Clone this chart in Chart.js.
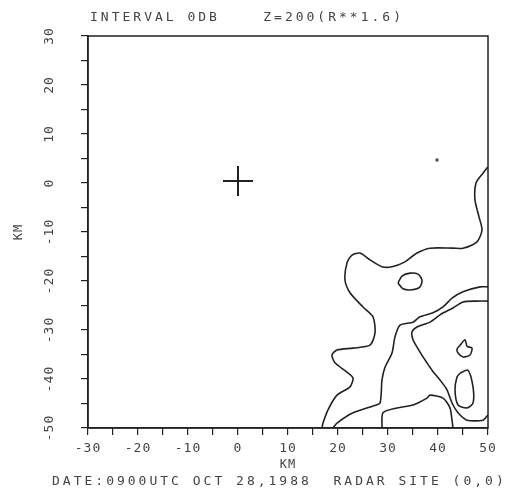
<!DOCTYPE html>
<html>
<head>
<meta charset="utf-8">
<script src="https://cdn.jsdelivr.net/npm/chart.js@4/dist/chart.umd.min.js"></script>
<style>
  html, body { margin: 0; padding: 0; background: #ffffff; }
  #wrap { width: 528px; height: 495px; }
</style>
</head>
<body>
<div id="wrap"><canvas id="c" width="528" height="495"></canvas></div>
<script>
// ---- text ----
const titleText = "INTERVAL 0DB    Z=200(R**1.6)";
const footerText = "DATE:0900UTC OCT 28,1988  RADAR SITE (0,0)";
const xAxisTitle = "KM";
const yAxisTitle = "KM";

// ---- axes ----
const xRange = [-30, 50];
const yRange = [-50, 30];
const tickStep = 5;
const labelStep = 10;

// ---- marks (km) ----
const radarSite = [[0, 0.4]];
const isolatedEcho = [[39.8, 4.7]];

// outer contour
const contour1 = [
  [50, 3.3], [49, 2.0], [47.6, 0], [47.4, -3.5], [48.2, -6.9], [48.8, -9.6],
  [47.8, -12], [45, -13.3], [43, -13.3], [38.4, -13.3], [35.8, -14.3],
  [33.4, -16.1], [30.8, -17.1], [28.8, -17.1], [26.4, -15.7], [24.4, -14.3],
  [22.8, -14.7], [21.8, -16.3], [21.4, -19.8], [22.4, -22.4], [25, -25.3],
  [27, -27.3], [27.4, -30.6], [26.4, -33.1], [23, -33.7], [19.8, -34.1],
  [18.8, -35.1], [19.4, -36.7], [21.8, -38.6], [23, -39.8], [22.4, -41.6],
  [19.8, -43.3], [18, -46.3], [17, -49], [16.8, -50]
];
// second contour
const contour2 = [
  [50, -21.2], [48.4, -21.2], [45, -22.2], [42.8, -23.5], [41, -25.3],
  [39, -26.5], [36.4, -27.3], [35, -28.4], [32.4, -29], [31.4, -31.4],
  [30.8, -34.7], [29.4, -37.6], [28.8, -40.2], [28.4, -44.9], [27, -45.5],
  [23, -46.9], [19.8, -49], [19, -50]
];
// bottom dome contour
const contour3 = [
  [28.8, -50], [29, -46.9], [31.8, -45.9], [35, -45.3], [37.8, -43.9],
  [38.4, -43.3], [41, -43.9], [42.4, -45.9], [42.8, -48.4], [43, -50]
];
// inner right contour
const contour4 = [
  [50, -24.1], [47.8, -24.1], [45, -24.3], [43, -25.5], [40.4, -26.9],
  [38.4, -28.4], [35.8, -29.4], [34.8, -30.4], [35, -32], [36.4, -34.5],
  [37.8, -36.7], [38.8, -38.2], [40.4, -40.2], [41.8, -42.2], [42.8, -44.9],
  [44, -46.9], [45.8, -48.4], [49, -48.4], [50, -47.3]
];
// closed cells
const cellOval = [
  [32, -20.4], [32.8, -19], [34.4, -18.4], [36, -18.6], [36.8, -19.8],
  [36.4, -21.2], [34.8, -21.8], [33, -21.6], [32, -20.4]
];
const cellSmall = [
  [44.4, -33.1], [45.4, -32], [45.8, -33.3], [46.8, -33.7], [46.4, -35.1],
  [45, -35.5], [44, -34.7], [43.8, -33.9], [44.4, -33.1]
];
const cellLoop = [
  [44.4, -38.8], [46, -38.2], [47, -41.6], [47, -44.9], [45.8, -45.9],
  [44, -45.3], [43.4, -42.2], [43.8, -39.6], [44.4, -38.8]
];

const contours = [contour1, contour2, contour3, contour4, cellOval, cellSmall, cellLoop];

const INK = '#222222';
const TEXT = '#444444';
const MONO = "'DejaVu Sans Mono', 'Liberation Mono', monospace";

const toXY = arr => arr.map(([x, y]) => ({ x, y }));

const datasets = contours.map(c => ({
  type: 'scatter',
  data: toXY(c),
  showLine: true,
  borderColor: INK,
  borderWidth: 1.6,
  pointRadius: 0,
  tension: 0.25,
  fill: false
}));
datasets.push({
  type: 'scatter',
  data: toXY(radarSite),
  pointStyle: 'cross',
  pointRadius: 15,
  borderColor: INK,
  borderWidth: 2,
  showLine: false
});
datasets.push({
  type: 'scatter',
  data: toXY(isolatedEcho),
  pointStyle: 'circle',
  pointRadius: 1.8,
  backgroundColor: '#555',
  borderColor: '#555',
  borderWidth: 0,
  showLine: false
});

const framePlugin = {
  id: 'frame',
  beforeDraw(chart) {
    const ctx = chart.ctx;
    ctx.save();
    ctx.fillStyle = '#ffffff';
    ctx.fillRect(0, 0, chart.width, chart.height);
    ctx.restore();
    ctx.letterSpacing = '1px';
  },
  afterDraw(chart) {
    const { ctx, chartArea: a } = chart;
    ctx.save();
    ctx.strokeStyle = INK;
    ctx.lineWidth = 1.5;
    ctx.strokeRect(a.left, a.top, a.right - a.left, a.bottom - a.top);
    ctx.fillStyle = TEXT;
    ctx.font = "13px " + MONO;
    ctx.letterSpacing = '3px';
    ctx.textBaseline = 'middle';
    ctx.textAlign = 'left';
    ctx.fillText(titleText, 90, 18);
    ctx.fillText(footerText, 52, 482);
    ctx.restore();
  }
};

new Chart(document.getElementById('c'), {
  type: 'scatter',
  data: { datasets },
  plugins: [framePlugin],
  options: {
    responsive: false,
    animation: false,
    layout: { padding: { top: 36, right: 40, left: 0, bottom: 0 } },
    plugins: { legend: { display: false }, tooltip: { enabled: false }, title: { display: false } },
    scales: {
      x: {
        type: 'linear',
        min: xRange[0], max: xRange[1],
        afterFit(s) { s.height = 67; },
        border: { display: true, color: INK, width: 1.5 },
        grid: { display: true, drawOnChartArea: false, drawTicks: true, tickLength: 7, color: INK, lineWidth: 1.2 },
        ticks: {
          stepSize: tickStep,
          autoSkip: false,
          maxRotation: 0, minRotation: 0,
          padding: 6,
          color: TEXT,
          font: { family: MONO, size: 13 },
          callback: v => (v % labelStep === 0 ? String(v) : '')
        },
        title: {
          display: true, text: xAxisTitle, color: TEXT,
          font: { family: MONO, size: 12 },
          padding: { top: 0, bottom: 23 }
        }
      },
      y: {
        type: 'linear',
        min: yRange[0], max: yRange[1],
        afterFit(s) { s.width = 88; },
        border: { display: true, color: INK, width: 1.5 },
        grid: { display: true, drawOnChartArea: false, drawTicks: true, tickLength: 7, color: INK, lineWidth: 1.2 },
        ticks: {
          stepSize: tickStep,
          autoSkip: false,
          minRotation: 90, maxRotation: 90,
          crossAlign: 'center',
          padding: 20,
          color: TEXT,
          font: { family: MONO, size: 13 },
          callback: v => (v % labelStep === 0 ? String(v) : '')
        },
        title: {
          display: true, text: yAxisTitle, color: TEXT,
          font: { family: MONO, size: 12 },
          padding: { top: 12, bottom: 0 }
        }
      }
    }
  }
});
</script>
</body>
</html>
